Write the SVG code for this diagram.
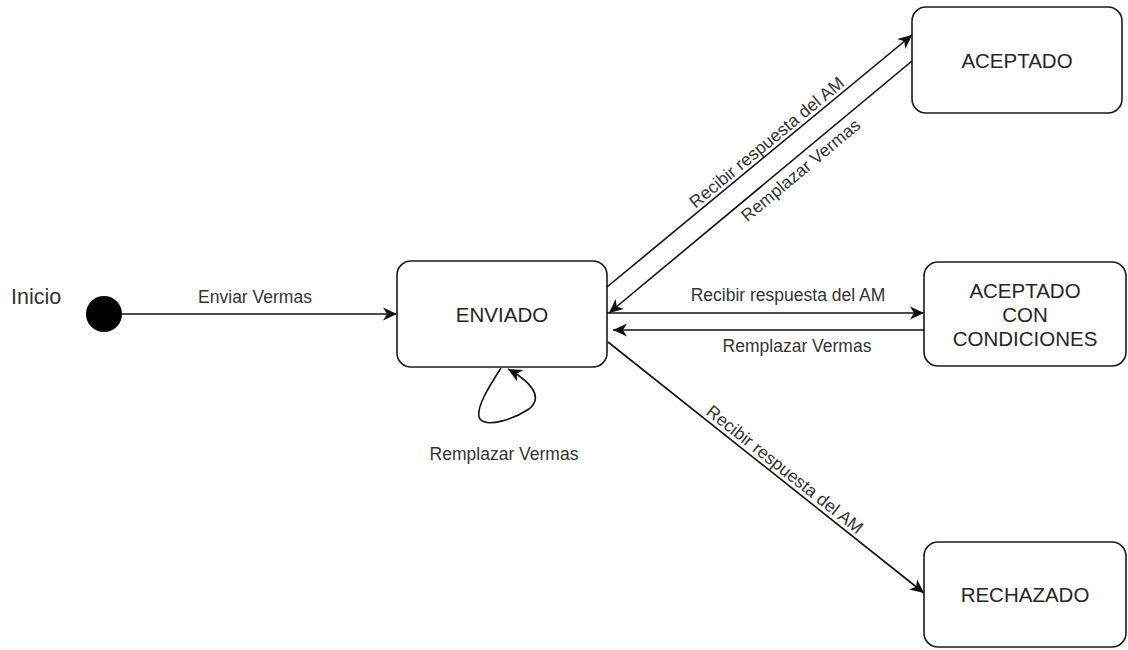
<svg xmlns="http://www.w3.org/2000/svg" width="1128" height="650" viewBox="0 0 1128 650">
  <style>
    .node rect { fill: #ffffff; stroke: #1a1a1a; stroke-width: 1.6; }
    .ntxt { font-family: "Liberation Sans", Arial, sans-serif; font-size: 20.5px; fill: #262626; text-anchor: middle; }
    .edge { fill: none; stroke: #111111; stroke-width: 1.6; marker-end: url(#arr); }
    .etxt { font-family: "Liberation Sans", Arial, sans-serif; font-size: 17.5px; fill: #333333; text-anchor: middle; }
  </style>
  <defs>
    <marker id="arr" viewBox="-16 -8 18 16" refX="0" refY="0" markerWidth="18" markerHeight="16" markerUnits="userSpaceOnUse" orient="auto">
      <path d="M0,0 L-14,-6.5 L-10,0 L-14,6.5 Z" fill="#111111"/>
    </marker>
  </defs>
  <rect width="1128" height="650" fill="#ffffff"/>

  <g id="inicio">
    <circle cx="104" cy="314" r="18" fill="#000000"/>
    <text x="11" y="304" font-family="Liberation Sans, Arial, sans-serif" font-size="21.5" fill="#333333">Inicio</text>
  </g>

  <g id="enviado" class="node">
    <rect x="397" y="261" width="210" height="106" rx="14" ry="14"/>
    <text class="ntxt" x="502" y="321.5">ENVIADO</text>
  </g>

  <g id="aceptado" class="node">
    <rect x="912" y="7" width="210" height="106" rx="14" ry="14"/>
    <text class="ntxt" x="1017" y="67.5">ACEPTADO</text>
  </g>

  <g id="aceptado-con-condiciones" class="node">
    <rect x="924" y="262" width="202" height="104" rx="14" ry="14"/>
    <text class="ntxt" x="1025" y="297.5">ACEPTADO</text>
    <text class="ntxt" x="1025" y="321.5">CON</text>
    <text class="ntxt" x="1025" y="345.5">CONDICIONES</text>
  </g>

  <g id="rechazado" class="node">
    <rect x="924" y="542" width="202" height="105" rx="14" ry="14"/>
    <text class="ntxt" x="1025" y="602">RECHAZADO</text>
  </g>

  <g id="connectors">
    <line class="edge" x1="122" y1="314" x2="397" y2="314"/>
    <text class="etxt" x="255" y="303">Enviar Vermas</text>

    <line class="edge" x1="607" y1="287" x2="912" y2="35"/>
    <text class="etxt" transform="translate(773,150) rotate(-39.6)" x="0" y="-4">Recibir respuesta del AM</text>

    <line class="edge" x1="912" y1="61" x2="609" y2="313"/>
    <text class="etxt" transform="translate(793,161) rotate(-39.8)" x="0" y="18">Remplazar Vermas</text>

    <line class="edge" x1="607" y1="313" x2="924" y2="313"/>
    <text class="etxt" x="788" y="301">Recibir respuesta del AM</text>

    <line class="edge" x1="924" y1="330" x2="613" y2="330"/>
    <text class="etxt" x="797" y="352">Remplazar Vermas</text>

    <line class="edge" x1="608" y1="342" x2="924" y2="593"/>
    <text class="etxt" transform="translate(778,478) rotate(38.5)" x="0" y="-5">Recibir respuesta del AM</text>

    <path class="edge" d="M 501 368 C 490 385, 474 410, 480 419 C 487 428, 514 419, 529 409 C 545 396, 528 380, 508 369"/>
    <text class="etxt" x="504" y="460">Remplazar Vermas</text>
  </g>
</svg>
